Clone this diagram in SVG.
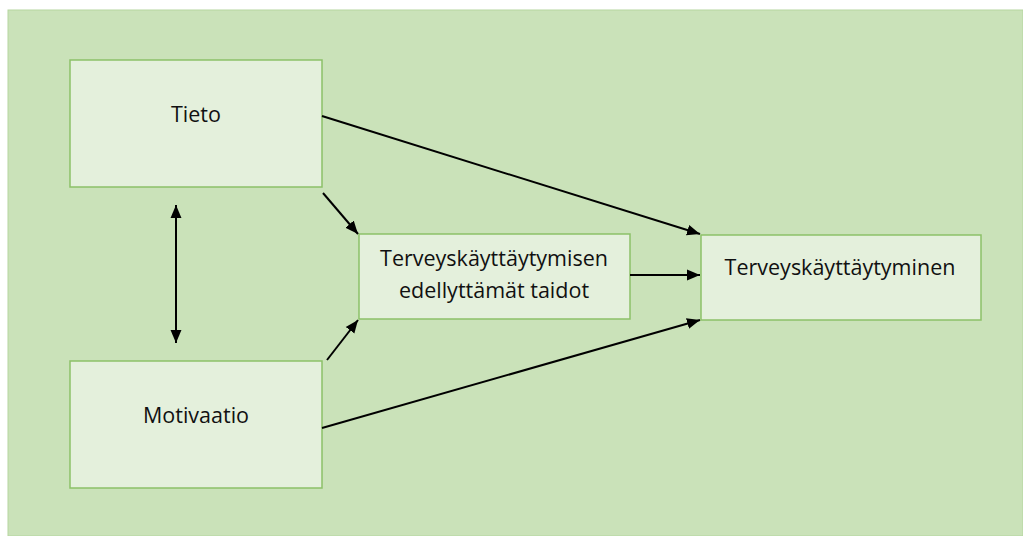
<svg xmlns="http://www.w3.org/2000/svg" width="1023" height="536" viewBox="0 0 1023 536">
<style>
.node rect{fill:#E4F0DC;stroke:#8CC168;stroke-width:1.5}
.node text{font-family:"Open Sans","Liberation Sans",sans-serif;font-size:21.5px;fill:#111;text-anchor:middle}
.conn line{stroke:#000;stroke-width:2}
</style>
<defs>
<marker id="ah" viewBox="0 0 10 10" refX="10" refY="5" markerWidth="6.5" markerHeight="6.5" orient="auto-start-reverse" markerUnits="strokeWidth">
<path d="M0,0.8 L10,5 L0,9.2 z" fill="#000"/>
</marker>
</defs>
<rect x="8" y="10" width="1015" height="526" fill="#CAE2B9" stroke="#B5D69F" stroke-width="1"/>
<g id="tieto" class="node"><rect x="70" y="60" width="252" height="127"/><text x="196" y="122">Tieto</text></g>
<g id="motivaatio" class="node"><rect x="70" y="361" width="252" height="127"/><text x="196" y="423">Motivaatio</text></g>
<g id="taidot" class="node"><rect x="359" y="234" width="271" height="85"/><text x="494" y="266">Terveyskäyttäytymisen</text><text x="494" y="298">edellyttämät taidot</text></g>
<g id="kayttaytyminen" class="node"><rect x="701" y="235" width="280" height="85"/><text x="840" y="275">Terveyskäyttäytyminen</text></g>
<g id="connectors" class="conn">
<line x1="322" y1="116" x2="700" y2="234" marker-end="url(#ah)"/>
<line x1="323" y1="193" x2="358" y2="234" marker-end="url(#ah)"/>
<line x1="630" y1="275" x2="700" y2="275" marker-end="url(#ah)"/>
<line x1="327" y1="360" x2="358" y2="320" marker-end="url(#ah)"/>
<line x1="322" y1="428" x2="700" y2="320" marker-end="url(#ah)"/>
<line x1="176" y1="205" x2="176" y2="343" marker-start="url(#ah)" marker-end="url(#ah)"/>
</g>
</svg>
